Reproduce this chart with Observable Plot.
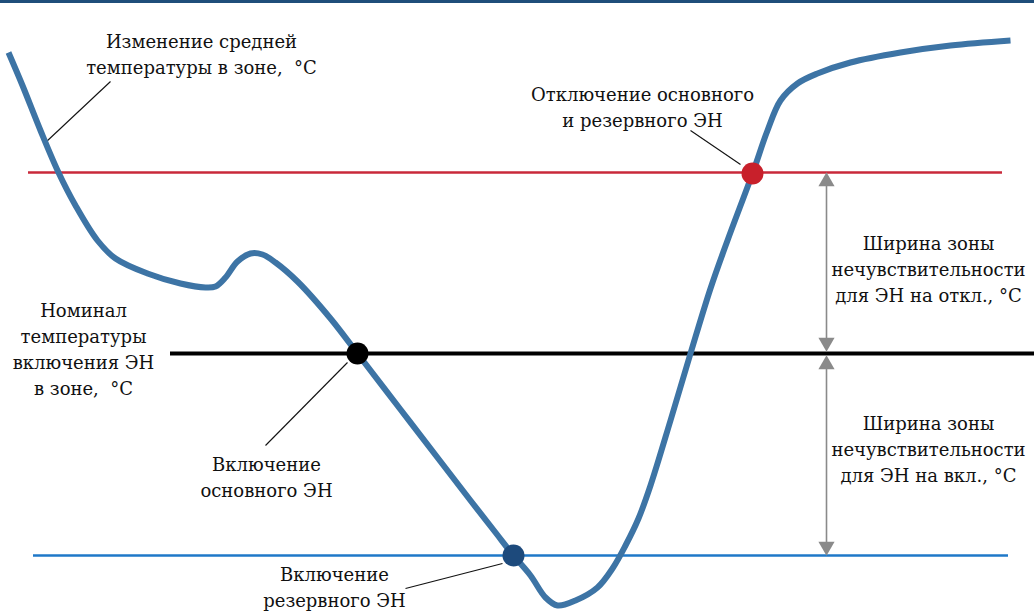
<!DOCTYPE html>
<html><head><meta charset="utf-8">
<script src="https://cdn.jsdelivr.net/npm/d3@7"></script>
<script src="https://cdn.jsdelivr.net/npm/@observablehq/plot@0.6"></script>
<style>html,body{margin:0;padding:0;background:#fff;overflow:hidden}</style>
</head><body><div id="chart"></div>
<script>
// Curve: time (x) vs. temperature level (y, measured downward in picture units)
const curveTime = [8,22,40,58,75,97,115,147,180,205,215,225,237,250,262,275,297,330,357,400,440,470,495,513,530,545,557,575,597,612,625,638,650,670,690,710,727,752,767,780,797,817,850,900,950,1010];
const curveTemp = [52,85,130,172,205,240,258,273,283,287,286,277,261,253,254,262,281,318,353,409,461,500,532,555,575,597,605,600,587,568,545,518,485,420,353,288,240,173,130,100,83,73,62,52,45,40];

// Threshold levels
const levelNames = ["off", "nominal", "reserve"];
const levelValue = [172, 353, 555];
const levelStart = [28, 170, 33];
const levelEnd = [1002, 1034, 1008];

// Switching events
const eventNames = ["Отключение", "Включение основного", "Включение резервного"];
const eventTime = [752, 357, 513];
const eventTemp = [173, 353, 555];

// Dead-band widths
const bandTime = 826;
const bandFrom = [175, 358];
const bandTo = [348, 552];

// Labels
const labelTexts = [
  "Изменение средней\nтемпературы в зоне,  °C",
  "Отключение основного\nи резервного ЭН",
  "Ширина зоны\nнечувствительности\nдля ЭН на откл., °C",
  "Номинал\nтемпературы\nвключения ЭН\nв зоне,  °C",
  "Включение\nосновного ЭН",
  "Ширина зоны\nнечувствительности\nдля ЭН на вкл., °C",
  "Включение\nрезервного ЭН"
];
const labelX = [201, 642, 928, 83, 266, 928, 334];
const labelY = [52, 105, 267, 347, 475, 447, 585];

// Leader lines
const leaderX1 = [110, 690, 347, 405];
const leaderY1 = [81, 130, 362, 588];
const leaderX2 = [45, 740, 265, 502];
const leaderY2 = [142, 164, 445, 563];

const curve = curveTime.map((t, i) => ({t, v: curveTemp[i]}));
const levels = levelNames.map((n, i) => ({n, v: levelValue[i], a: levelStart[i], b: levelEnd[i]}));
const events = eventNames.map((n, i) => ({n, t: eventTime[i], v: eventTemp[i]}));
const bands = bandFrom.map((f, i) => ({f, to: bandTo[i]}));
const labels = labelTexts.map((s, i) => ({s, x: labelX[i], y: labelY[i]}));
const leaders = leaderX1.map((x, i) => ({x1: x, y1: leaderY1[i], x2: leaderX2[i], y2: leaderY2[i]}));

const levelColor = {off: "#c9293a", nominal: "#000000", reserve: "#1f78c8"};
const levelWidth = {off: 2.5, nominal: 4, reserve: 2.5};
const eventColor = {"Отключение": "#c8202b", "Включение основного": "#000000", "Включение резервного": "#1d4a7c"};

const chart = Plot.plot({
  width: 1034,
  height: 613,
  margin: 0,
  x: {domain: [0, 1034], axis: null},
  y: {domain: [0, 613], reverse: true, axis: null},
  style: {background: "#fff"},
  marks: [
    Plot.ruleY([1], {stroke: "#1f4e7a", strokeWidth: 3}),
    ...levelNames.map(n => Plot.ruleY(levels.filter(d => d.n === n), {
      y: "v", x1: "a", x2: "b", stroke: levelColor[n], strokeWidth: levelWidth[n]
    })),
    Plot.ruleX(bands, {x: () => bandTime, y1: d => d.f + 6, y2: d => d.to - 6, stroke: "#8a8a8a", strokeWidth: 1.6}),
    Plot.dot(bands, {x: () => bandTime, y: d => d.f + 6, symbol: "triangle", r: 6, fill: "#8a8a8a", stroke: "none"}),
    Plot.dot(bands, {x: () => bandTime, y: d => d.to - 6, symbol: "triangle", r: 6, rotate: 180, fill: "#8a8a8a", stroke: "none"}),
    Plot.link(leaders, {x1: "x1", y1: "y1", x2: "x2", y2: "y2", stroke: "#111", strokeWidth: 1.1}),
    Plot.line(curve, {x: "t", y: "v", curve: "catmull-rom", stroke: "#3d74a5", strokeWidth: 6, strokeLinecap: "butt", strokeLinejoin: "round"}),
    Plot.dot(events, {x: "t", y: "v", r: 11, fill: d => eventColor[d.n], stroke: "none"}),
    Plot.text(labels, {x: "x", y: "y", text: "s", textAnchor: "middle", lineAnchor: "middle", lineHeight: 1.45,
      fontFamily: "DejaVu Serif", fontSize: 18, fill: "#111"})
  ]
});
document.getElementById("chart").appendChild(chart);
</script>
</body></html>
